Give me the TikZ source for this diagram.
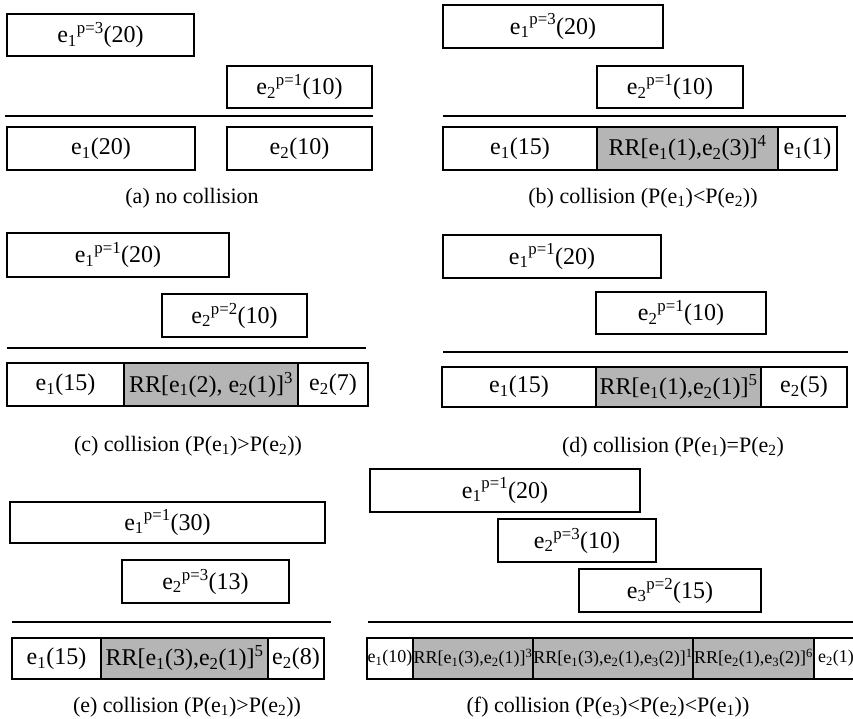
\documentclass[tikz,border=0pt]{standalone}
\usepackage{fontspec}
\setmainfont{Liberation Serif}
\definecolor{rrgray}{gray}{0.71}
\newcommand\esub[1]{e\textsubscript{#1}}
\newcommand\esp[2]{e\textsubscript{#1}\textsuperscript{#2}}
\newcommand\ebox[7][]{%
  \node[ebox,#1,minimum width={(#5-#3)*1pt},minimum height={(#6-#4)*1pt}]
    (#2) at ({(#3+#5)/2},{(#4+#6)/2}) {#7};}
\tikzset{
  ebox/.style={draw, line width=1.8pt, inner sep=0pt, outer sep=0pt,
    font=\fontsize{24}{28}\selectfont},
  rr/.style={fill=rrgray},
  small/.style={font=\fontsize{18}{21}\selectfont},
  captext/.style={inner sep=0pt, font=\fontsize{22}{26}\selectfont},
  sepline/.style={line width=1.8pt}
}
\begin{document}
\begin{tikzpicture}[x=1pt,y=-1pt]
\useasboundingbox (0,0) rectangle (853,718);
% ---------- (a)
\ebox{a1}{7}{14}{194}{56}{\esp{1}{p=3}(20)}
\ebox{a2}{227}{66}{372}{108}{\esp{2}{p=1}(10)}
\coordinate (aL) at (5,116); \coordinate (aR) at (373,116);
\draw[sepline] (aL) -- (aR);
\ebox{a3}{7}{127}{195}{170}{\esub{1}(20)}
\ebox{a4}{227}{127}{372}{170}{\esub{2}(10)}
\node[captext] (capa) at (192,198) {(a) no collision};
% ---------- (b)
\ebox{b1}{443}{5}{663}{48}{\esp{1}{p=3}(20)}
\ebox{b2}{597}{66}{743}{108}{\esp{2}{p=1}(10)}
\coordinate (bL) at (443,116); \coordinate (bR) at (846,116);
\draw[sepline] (bL) -- (bR);
\ebox{b3}{443}{127}{597}{170}{\esub{1}(15)}
\ebox[rr]{b4}{597}{127}{778}{170}{RR[\esub{1}(1),\esub{2}(3)]\textsuperscript{4}}
\ebox{b5}{778}{127}{837}{170}{\esub{1}(1)}
\node[captext] (capb) at (643,198) {(b) collision (P(\esub{1})<P(\esub{2}))};
% ---------- (c)
\ebox{c1}{7}{233}{229}{277}{\esp{1}{p=1}(20)}
\ebox{c2}{162}{294}{307}{337}{\esp{2}{p=2}(10)}
\coordinate (cL) at (7,348); \coordinate (cR) at (366,348);
\draw[sepline] (cL) -- (cR);
\ebox{c3}{7}{363}{124}{406}{\esub{1}(15)}
\ebox[rr]{c4}{124}{363}{298}{406}{RR[\esub{1}(2), \esub{2}(1)]\textsuperscript{3}}
\ebox{c5}{298}{363}{368}{406}{\esub{2}(7)}
\node[captext] (capc) at (188,446) {(c) collision (P(\esub{1})>P(\esub{2}))};
% ---------- (d)
\ebox{d1}{443}{235}{661}{278}{\esp{1}{p=1}(20)}
\ebox{d2}{596}{292}{766}{334}{\esp{2}{p=1}(10)}
\coordinate (dL) at (443,352); \coordinate (dR) at (848,352);
\draw[sepline] (dL) -- (dR);
\ebox{d3}{442}{367}{596}{407}{\esub{1}(15)}
\ebox[rr]{d4}{596}{367}{761}{407}{RR[\esub{1}(1),\esub{2}(1)]\textsuperscript{5}}
\ebox{d5}{761}{367}{847}{407}{\esub{2}(5)}
\node[captext] (capd) at (673,447) {(d) collision (P(\esub{1})=P(\esub{2})};
% ---------- (e)
\ebox{e1}{10}{502}{325}{543}{\esp{1}{p=1}(30)}
\ebox{e2}{122}{560}{289}{603}{\esp{2}{p=3}(13)}
\coordinate (eL) at (12,622); \coordinate (eR) at (331,622);
\draw[sepline] (eL) -- (eR);
\ebox{e3}{12}{638}{101}{679}{\esub{1}(15)}
\ebox[rr]{e4}{101}{638}{268}{679}{RR[\esub{1}(3),\esub{2}(1)]\textsuperscript{5}}
\ebox{e5}{268}{638}{324}{679}{\esub{2}(8)}
\node[captext] (cape) at (187,707) {(e) collision (P(\esub{1})>P(\esub{2}))};
% ---------- (f)
\ebox{f1}{370}{469}{640}{512}{\esp{1}{p=1}(20)}
\ebox{f2}{498}{519}{656}{562}{\esp{2}{p=3}(10)}
\ebox{f3}{579}{569}{761}{612}{\esp{3}{p=2}(15)}
\coordinate (fL) at (368,622); \coordinate (fR) at (853,622);
\draw[sepline] (fL) -- (fR);
\ebox[small]{f4}{367}{638}{413}{679}{\esub{1}(10)}
\ebox[rr,small]{f5}{413}{638}{533}{679}{RR[\esub{1}(3),\esub{2}(1)]\textsuperscript{3}}
\ebox[rr,small]{f6}{533}{638}{693}{679}{RR[\esub{1}(3),\esub{2}(1),\esub{3}(2)]\textsuperscript{1}}
\ebox[rr,small]{f7}{693}{638}{814}{679}{RR[\esub{2}(1),\esub{3}(2)]\textsuperscript{6}}
\ebox[small]{f8}{814}{638}{858}{679}{\esub{2}(1)\hspace{5pt}}
\node[captext] (capf) at (608,707) {(f) collision (P(\esub{3})<P(\esub{2})<P(\esub{1}))};
\end{tikzpicture}
\end{document}
